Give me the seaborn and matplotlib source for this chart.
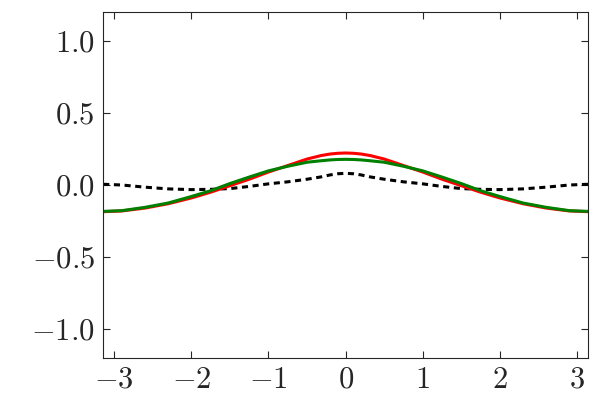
import numpy as np
import pandas as pd
import matplotlib
matplotlib.use("Agg")
import matplotlib.pyplot as plt
import seaborn as sns

# Data (curves are symmetric about x = 0)
x_vals = [-3.1416, -2.9, -2.6, -2.3, -2.0, -1.75, -1.5, -1.25, -1.0, -0.75, -0.5, -0.32, -0.2, -0.1, 0.0,
          0.1, 0.2, 0.32, 0.5, 0.75, 1.0, 1.25, 1.5, 1.75, 2.0, 2.3, 2.6, 2.9, 3.1416]
red_vals = [-0.185, -0.18, -0.16, -0.13, -0.09, -0.05, -0.005, 0.04, 0.09, 0.135, 0.18, 0.204, 0.215, 0.22, 0.222,
            0.22, 0.215, 0.204, 0.18, 0.135, 0.09, 0.04, -0.005, -0.05, -0.09, -0.13, -0.16, -0.18, -0.185]
green_vals = [-0.183, -0.178, -0.155, -0.125, -0.08, -0.04, 0.01, 0.055, 0.098, 0.13, 0.158, 0.168, 0.174, 0.177, 0.178,
              0.177, 0.174, 0.168, 0.158, 0.13, 0.098, 0.055, 0.01, -0.04, -0.08, -0.125, -0.155, -0.178, -0.183]
black_vals = [0.005, 0.0, -0.015, -0.027, -0.032, -0.03, -0.025, -0.01, 0.008, 0.022, 0.04, 0.056, 0.07, 0.078, 0.081,
              0.078, 0.07, 0.056, 0.04, 0.022, 0.008, -0.01, -0.025, -0.03, -0.032, -0.027, -0.015, 0.0, 0.005]

x_ticks = [-3, -2, -1, 0, 1, 2, 3]
y_ticks = [-1.0, -0.5, 0.0, 0.5, 1.0]

df = pd.DataFrame({"x": x_vals, "red": red_vals, "green": green_vals, "black": black_vals})

sns.set_style("ticks")
plt.rcParams["font.family"] = "serif"
plt.rcParams["font.serif"] = ["cmr10", "DejaVu Serif"]
plt.rcParams["mathtext.fontset"] = "cm"

fig = plt.figure(figsize=(6, 4), dpi=100)
ax = fig.add_axes([0.172, 0.105, 0.808, 0.865])

sns.lineplot(data=df, x="x", y="black", ax=ax, color="black", linewidth=2.2,
             linestyle=(0, (2, 1.5)))
sns.lineplot(data=df, x="x", y="red", ax=ax, color="red", linewidth=2.2)
sns.lineplot(data=df, x="x", y="green", ax=ax, color="green", linewidth=2.2)

ax.set_xlim(-np.pi, np.pi)
ax.set_ylim(-1.2, 1.2)
ax.set_xticks(x_ticks)
ax.set_xticklabels([f"${t}$" for t in x_ticks])
ax.set_yticks(y_ticks)
ax.set_yticklabels([f"${t:.1f}$" for t in y_ticks])
ax.set_xlabel("")
ax.set_ylabel("")
ax.tick_params(direction="in", top=True, right=True, length=5, width=0.8,
               labelsize=22, pad=6)
for s in ax.spines.values():
    s.set_linewidth(0.8)

fig.savefig("out.png", dpi=100)
